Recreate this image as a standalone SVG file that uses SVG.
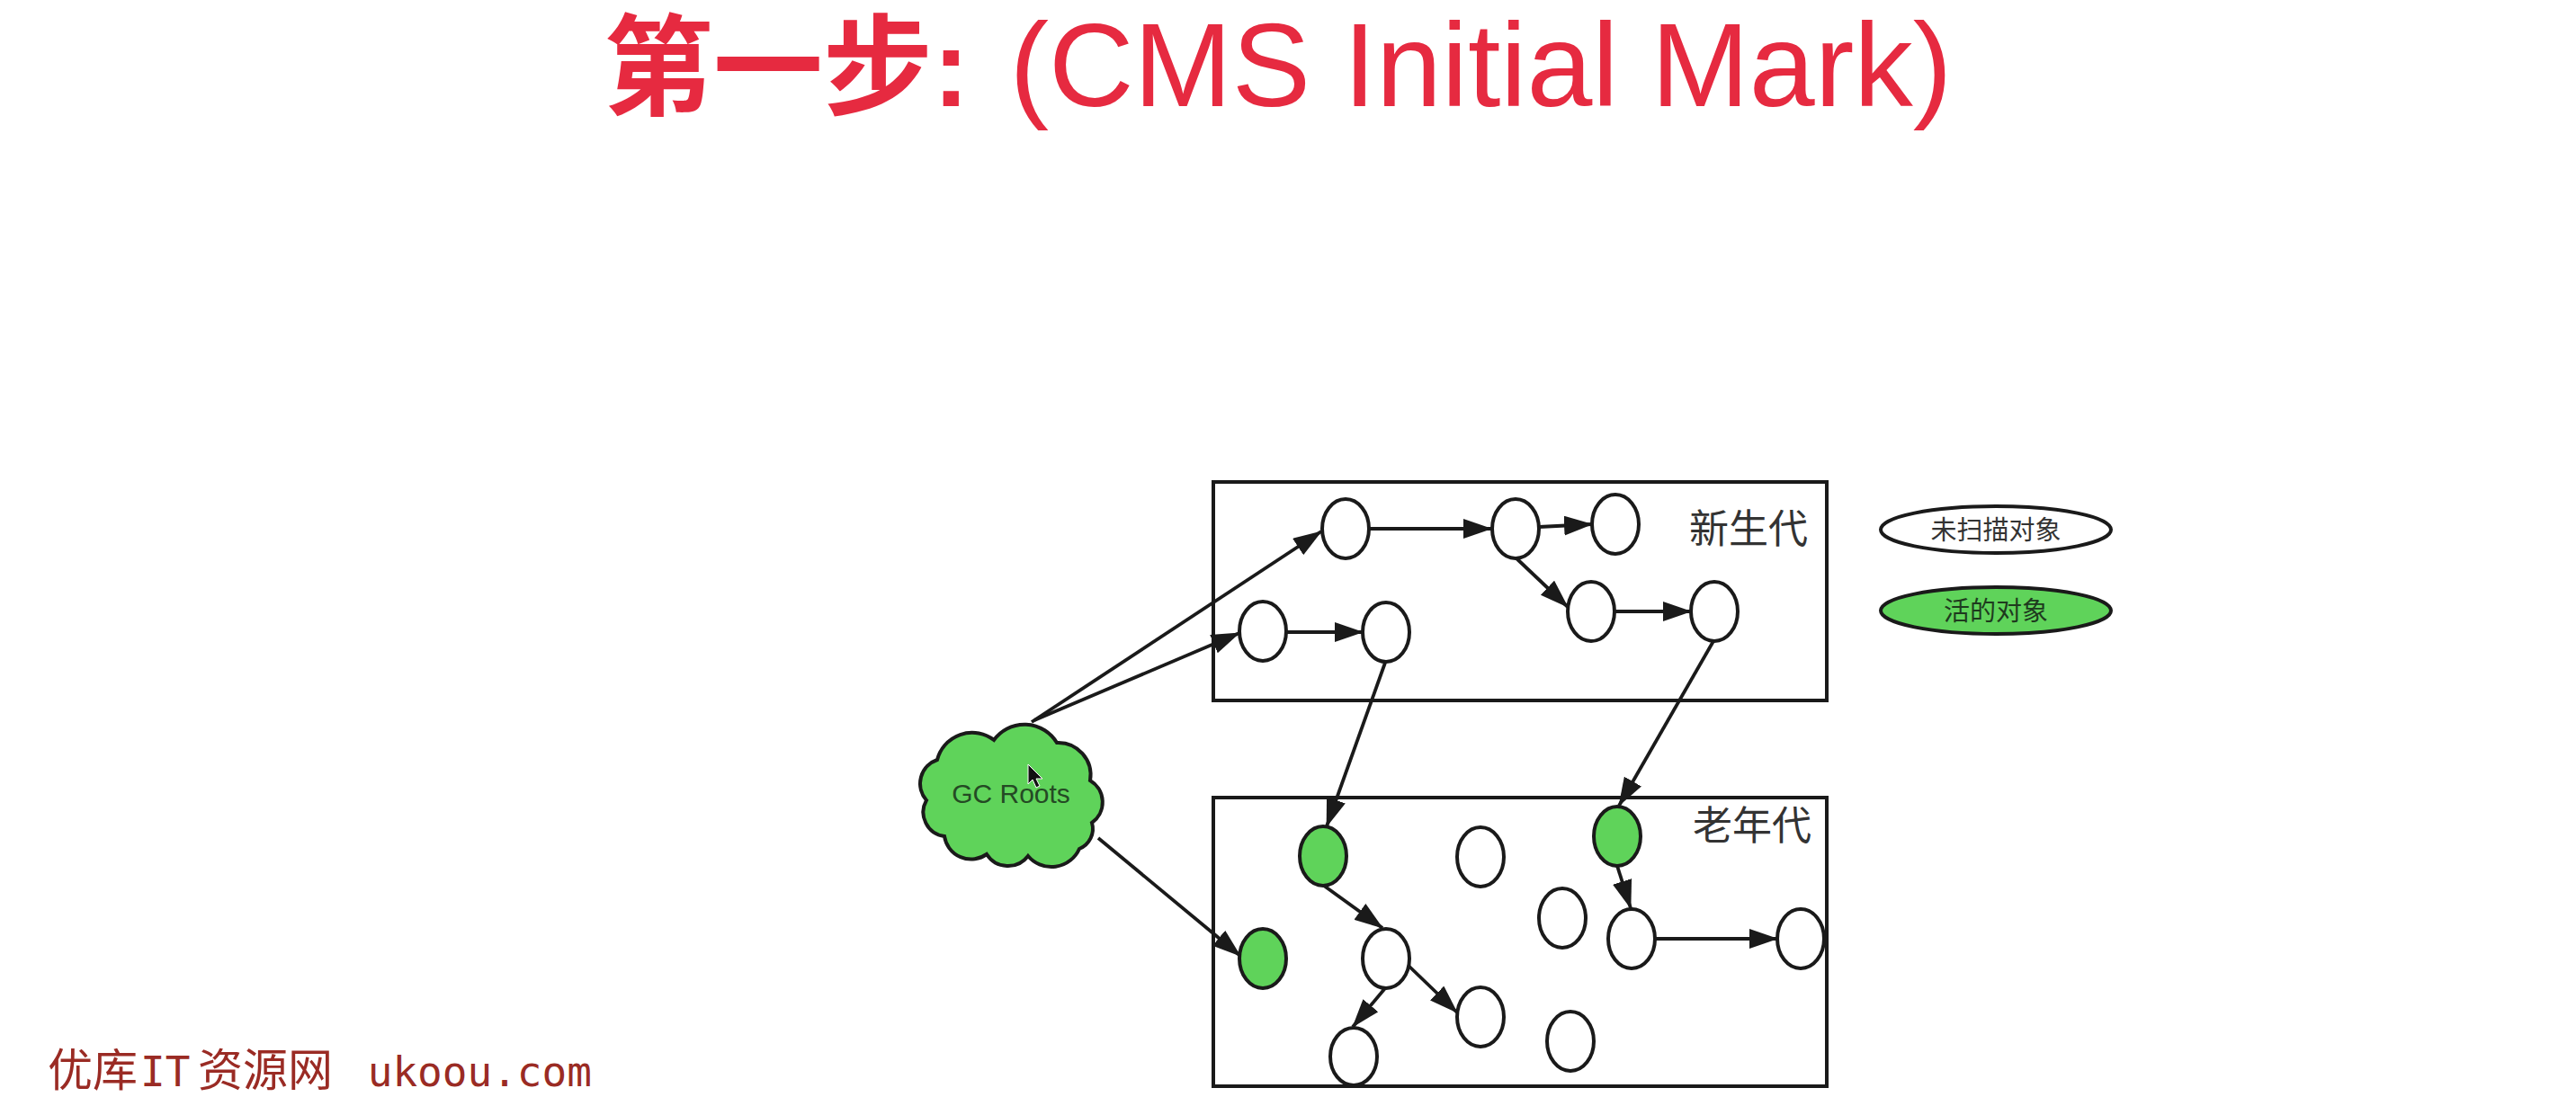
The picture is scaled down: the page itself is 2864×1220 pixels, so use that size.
<svg xmlns="http://www.w3.org/2000/svg" width="2864" height="1220" viewBox="0 0 2864 1220">
<style>
.title{font-family:"Liberation Sans","Noto Sans CJK SC",sans-serif;fill:#e62a40;font-size:131px}
.tcjk{font-family:"Liberation Sans","Noto Sans CJK SC",sans-serif;font-weight:bold;font-size:122px}
.box{fill:none;stroke:#1a1a1a;stroke-width:4}
.obj{fill:#ffffff;stroke:#1a1a1a;stroke-width:4}
.live{fill:#5fd35a;stroke:#1a1a1a;stroke-width:4}
.lbl{font-family:"Noto Sans CJK SC",sans-serif;font-size:44px;fill:#333333;text-anchor:middle}
.leg{font-family:"Noto Sans CJK SC",sans-serif;font-size:29px;text-anchor:middle}
.edge{fill:none;stroke:#1a1a1a;stroke-width:3.8;marker-end:url(#ah)}
.wm{font-family:"DejaVu Sans Mono","Noto Sans CJK SC",monospace;font-size:46px;fill:#9a2b24}
</style>
<defs>
<marker id="ah" viewBox="0 0 32 22" markerWidth="32" markerHeight="22" refX="31" refY="11" orient="auto" markerUnits="userSpaceOnUse">
<path d="M0,0 L32,11 L0,22 z" fill="#1a1a1a"/>
</marker>
</defs>
<rect x="0" y="0" width="2864" height="1220" fill="#ffffff"/>

<g id="title">
<text class="title" y="118"><tspan class="tcjk" x="671">第一步:</tspan><tspan x="1086"> (CMS Initial Mark)</tspan></text>
</g>

<g id="young-gen">
<rect class="box" x="1349" y="536" width="682" height="243"/>
<text class="lbl" x="1944" y="604">新生代</text>
</g>
<g id="old-gen">
<rect class="box" x="1349" y="887" width="682" height="321"/>
<text class="lbl" x="1948" y="934">老年代</text>
</g>

<g id="gc-roots">
<path class="live" d="M1042,845 A40,40 0 0 1 1105,823 A42,42 0 0 1 1175,826 A36,36 0 0 1 1212,868 A28,28 0 0 1 1214,915 A24,24 0 0 1 1200,944 A34,34 0 0 1 1143,952 A28,28 0 0 1 1097,950 A30,30 0 0 1 1050,930 A27,27 0 0 1 1030,890 A28,28 0 0 1 1042,845 z"/>
<text x="1124" y="893" font-family="Liberation Sans, sans-serif" font-size="30" fill="#244a24" text-anchor="middle">GC Roots</text>
</g>

<g id="young-objects">
<ellipse id="n1" class="obj" cx="1496" cy="588" rx="26" ry="33"/>
<ellipse id="n2" class="obj" cx="1685" cy="588" rx="26" ry="33"/>
<ellipse id="n3" class="obj" cx="1796" cy="583" rx="26" ry="33"/>
<ellipse id="n4" class="obj" cx="1769" cy="680" rx="26" ry="33"/>
<ellipse id="n5" class="obj" cx="1906" cy="680" rx="26" ry="33"/>
<ellipse id="n6" class="obj" cx="1404" cy="702" rx="26" ry="33"/>
<ellipse id="n7" class="obj" cx="1541" cy="703" rx="26" ry="33"/>
</g>

<g id="old-objects">
<ellipse id="g1" class="live" cx="1471" cy="952" rx="26" ry="33"/>
<ellipse id="g2" class="live" cx="1798" cy="930" rx="26" ry="33"/>
<ellipse id="g3" class="live" cx="1404" cy="1066" rx="26" ry="33"/>
<ellipse id="w1" class="obj" cx="1646" cy="953" rx="26" ry="33"/>
<ellipse id="w2" class="obj" cx="1737" cy="1021" rx="26" ry="33"/>
<ellipse id="w3" class="obj" cx="1814" cy="1044" rx="26" ry="33"/>
<ellipse id="w4" class="obj" cx="2002" cy="1044" rx="26" ry="33"/>
<ellipse id="w5" class="obj" cx="1541" cy="1066" rx="26" ry="33"/>
<ellipse id="w6" class="obj" cx="1646" cy="1131" rx="26" ry="33"/>
<ellipse id="w7" class="obj" cx="1746" cy="1158" rx="26" ry="33"/>
<ellipse id="w8" class="obj" cx="1505" cy="1175" rx="26" ry="32"/>
</g>

<g id="connectors">
<path class="edge" d="M1147,803 L1469,591"/>
<path class="edge" d="M1150,801 L1378,704"/>
<path class="edge" d="M1221,932 L1379,1063"/>
<path class="edge" d="M1522,588 L1658,588"/>
<path class="edge" d="M1711,586 L1770,583"/>
<path class="edge" d="M1686,621 L1743,675"/>
<path class="edge" d="M1795,680 L1880,680"/>
<path class="edge" d="M1430,703 L1515,703"/>
<path class="edge" d="M1540,737 L1475,919"/>
<path class="edge" d="M1905,713 L1800,896"/>
<path class="edge" d="M1472,985 L1537,1032"/>
<path class="edge" d="M1798,963 L1813,1010"/>
<path class="edge" d="M1840,1044 L1976,1044"/>
<path class="edge" d="M1566,1074 L1620,1126"/>
<path class="edge" d="M1540,1099 L1504,1142"/>
</g>

<g id="legend-unscanned">
<ellipse class="obj" cx="2219" cy="589" rx="128" ry="26" stroke-width="4"/>
<text class="leg" x="2219" y="600" fill="#333333">未扫描对象</text>
</g>
<g id="legend-live">
<ellipse class="live" cx="2219" cy="679" rx="128" ry="26" stroke-width="4"/>
<text class="leg" x="2219" y="690" fill="#1e3a1e">活的对象</text>
</g>

<g id="cursor">
<path d="M1143,850 L1143,872 L1148,867 L1152,876 L1156,874 L1152,866 L1159,866 z" fill="#111111" stroke="#ffffff" stroke-width="1"/>
</g>

<g id="watermark">
<text class="wm" y="1208"><tspan x="53" font-size="50">优库</tspan><tspan x="156">IT</tspan><tspan x="220" font-size="50">资源网</tspan><tspan x="381"> ukoou.com</tspan></text>
</g>
</svg>
